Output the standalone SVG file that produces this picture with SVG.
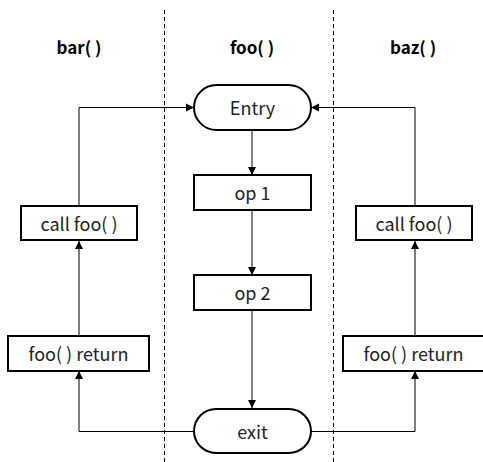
<svg xmlns="http://www.w3.org/2000/svg" width="483" height="462" viewBox="0 0 483 462">
<defs>
<marker id="arr" markerWidth="10" markerHeight="10" refX="9" refY="5" orient="auto" markerUnits="userSpaceOnUse">
<path d="M1,1 L9,5 L1,9 z" fill="#000"/>
</marker>
<style>
.box{fill:#fff;stroke:#000;stroke-width:2}
.t{font-family:"Noto Sans CJK KR","Noto Sans",sans-serif;font-size:18px;fill:#222;text-anchor:middle;dominant-baseline:central}
.h{font-family:"Noto Sans CJK KR","Noto Sans",sans-serif;font-size:17px;font-weight:bold;fill:#000;text-anchor:middle;dominant-baseline:central}
.c{fill:none;stroke:#000;stroke-width:1}
.d{stroke:#000;stroke-width:1;stroke-dasharray:4,3}
</style>
</defs>
<rect width="483" height="462" fill="#fff"/>
<g id="lanes">
<line class="d" x1="164.5" y1="10" x2="164.5" y2="462"/>
<line class="d" x1="333.5" y1="10" x2="333.5" y2="462"/>
<text class="h" x="79" y="46">bar( )</text>
<text class="h" x="252" y="46">foo( )</text>
<text class="h" x="413" y="46">baz( )</text>
</g>
<g id="connectors">
<line class="c" x1="252" y1="130" x2="252" y2="175" marker-end="url(#arr)"/>
<line class="c" x1="252" y1="210" x2="252" y2="275" marker-end="url(#arr)"/>
<line class="c" x1="252" y1="310" x2="252" y2="408" marker-end="url(#arr)"/>
<polyline class="c" points="79,206 79,107.5 194,107.5" marker-end="url(#arr)"/>
<polyline class="c" points="415,206 415,107.5 311,107.5" marker-end="url(#arr)"/>
<line class="c" x1="79" y1="336" x2="79" y2="241" marker-end="url(#arr)"/>
<line class="c" x1="415" y1="336" x2="415" y2="241" marker-end="url(#arr)"/>
<polyline class="c" points="194,431.5 79,431.5 79,371" marker-end="url(#arr)"/>
<polyline class="c" points="311,431.5 415,431.5 415,371" marker-end="url(#arr)"/>
</g>
<g id="entry">
<rect class="box" x="194" y="85" width="117" height="45" rx="22.5"/>
<text class="t" x="252.5" y="107">Entry</text>
</g>
<g id="op1">
<rect class="box" x="194" y="175" width="117" height="35"/>
<text class="t" x="252.5" y="192">op 1</text>
</g>
<g id="op2">
<rect class="box" x="194" y="275" width="117" height="35"/>
<text class="t" x="252.5" y="292">op 2</text>
</g>
<g id="exit">
<rect class="box" x="194" y="409" width="117" height="44" rx="22"/>
<text class="t" x="252.5" y="431">exit</text>
</g>
<g id="bar_call">
<rect class="box" x="21" y="206" width="116" height="34"/>
<text class="t" x="79" y="223">call foo( )</text>
</g>
<g id="bar_return">
<rect class="box" x="8" y="336" width="141" height="35"/>
<text class="t" x="78.5" y="353">foo( ) return</text>
</g>
<g id="baz_call">
<rect class="box" x="356" y="206" width="116" height="34"/>
<text class="t" x="414" y="223">call foo( )</text>
</g>
<g id="baz_return">
<rect class="box" x="343" y="336" width="141" height="35"/>
<text class="t" x="413.5" y="353">foo( ) return</text>
</g>
</svg>
